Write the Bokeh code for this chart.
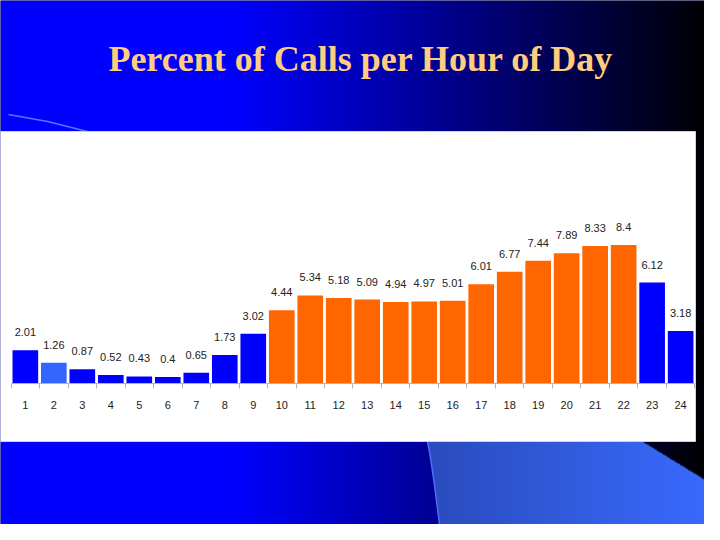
import numpy as np
from bokeh.plotting import figure
from bokeh.models import Range1d, LinearAxis, FixedTicker, ColumnDataSource
from bokeh.core.properties import value
from bokeh.embed import file_html
from bokeh.resources import INLINE

# ---- data ----
hours = list(range(1, 25))
percent = [2.01, 1.26, 0.87, 0.52, 0.43, 0.4, 0.65, 1.73, 3.02, 4.44, 5.34, 5.18,
           5.09, 4.94, 4.97, 5.01, 6.01, 6.77, 7.44, 7.89, 8.33, 8.4, 6.12, 3.18]
tick_labels = [str(h) for h in hours]
value_labels = [f"{v:g}" for v in percent]
title_text = "Percent of Calls per Hour of Day"

# ---- styles ----
BLUE = "#0000ff"
LIGHT = "#3366ff"
ORANGE = "#ff6600"
bar_colors = [BLUE, LIGHT] + [BLUE] * 7 + [ORANGE] * 13 + [BLUE] * 2
SANS = "Liberation Sans"

W, H = 704, 524

p = figure(width=W, height=H,
           x_range=Range1d(0.128, 24.838), y_range=Range1d(-8.545, 23.212),
           x_axis_type=None, y_axis_type=None,
           toolbar_location=None, output_backend="svg", min_border=0)
p.outline_line_color = None
p.border_fill_color = None
p.background_fill_color = "#000040"
# slide (decoration) coordinates: x = screen px of slide, y = 540 - screen px
p.extra_x_ranges = {"px": Range1d(8, 712)}
p.extra_y_ranges = {"px": Range1d(8, 532)}

# ---- background gradient image ----
X = 8 + np.arange(W) + 0.5
UP = 8 + np.arange(H) + 0.5
Y = 540 - UP
XX, YY = np.meshgrid(X, Y)
f = np.clip((720 - XX) / 480.0, 0, 1)
rgba = np.zeros((H, W, 4), dtype=np.uint8)
rgba[..., 2] = (255 * f).astype(np.uint8)
rgba[..., 3] = 255
xl = 435 + 13 * np.clip((YY - 449) / 91.0, 0, 1) ** 0.85
light = (YY >= 449) & (XX >= xl) & (YY >= 449 + (XX - 650) * 43.0 / 70.0)
t = np.clip((XX - 440) / 280.0, 0, 1)
rgba[..., 0] = np.where(light, 42 + 16 * t, 0).astype(np.uint8)
rgba[..., 1] = np.where(light, 76 + 30 * t, 0).astype(np.uint8)
rgba[..., 2] = np.where(light, 190 + 65 * t, rgba[..., 2]).astype(np.uint8)
img = rgba.view(dtype=np.uint32).reshape(H, W)
p.image_rgba(image=[img], x=8, y=8, dw=W, dh=H, x_range_name="px", y_range_name="px")

# edge line of light region and top-left accent line
cy = np.linspace(449, 540, 12)
cx = 435 + 13 * ((cy - 449) / 91.0) ** 0.85
p.line(x=cx, y=540 - cy, line_color="#4d6dff", line_width=1.5,
       x_range_name="px", y_range_name="px")
p.line(x=[16, 55, 95], y=[540 - 122, 540 - 129, 540 - 139], line_color="#5577ff",
       line_width=1.5, x_range_name="px", y_range_name="px")

# white chart panel
p.quad(left=[6], right=[703], bottom=[540 - 449], top=[540 - 139], fill_color="white",
       line_color="#c8d0ff", line_width=1, x_range_name="px", y_range_name="px")

# title
p.text(x=[368.5], y=[540 - 66], text=[title_text], text_font=value("Liberation Serif"),
       text_font_style="bold", text_font_size="36px", text_color="#ffcc80",
       text_align="center", text_baseline="middle",
       x_range_name="px", y_range_name="px")

# ---- bars ----
src = ColumnDataSource(dict(hour=hours, pct=percent, color=bar_colors, label=value_labels))
p.vbar(x="hour", top="pct", bottom=0, width=0.9, fill_color="color", line_color=None, source=src)
p.text(x="hour", y="pct", text="label", y_offset=-18, text_align="center",
       text_baseline="middle", text_font_size="11px", text_font=value(SANS),
       text_color="#222222", source=src)

# ---- axis ----
ax = LinearAxis(fixed_location=0,
                ticker=FixedTicker(ticks=hours, minor_ticks=[h + 0.5 for h in range(0, 25)]),
                major_label_overrides={h: s for h, s in zip(hours, tick_labels)})
ax.bounds = (0.5, 24.5)
ax.axis_line_color = "#b4b4b4"
ax.major_tick_out = 0
ax.major_tick_in = 0
ax.minor_tick_out = 5
ax.minor_tick_in = 0
ax.minor_tick_line_color = "#b4b4b4"
ax.major_label_standoff = 12
ax.major_label_text_font_size = "11px"
ax.major_label_text_font = SANS
ax.major_label_text_color = "#222222"
p.add_layout(ax, "below")

open("out.html", "w").write(file_html(p, INLINE))
